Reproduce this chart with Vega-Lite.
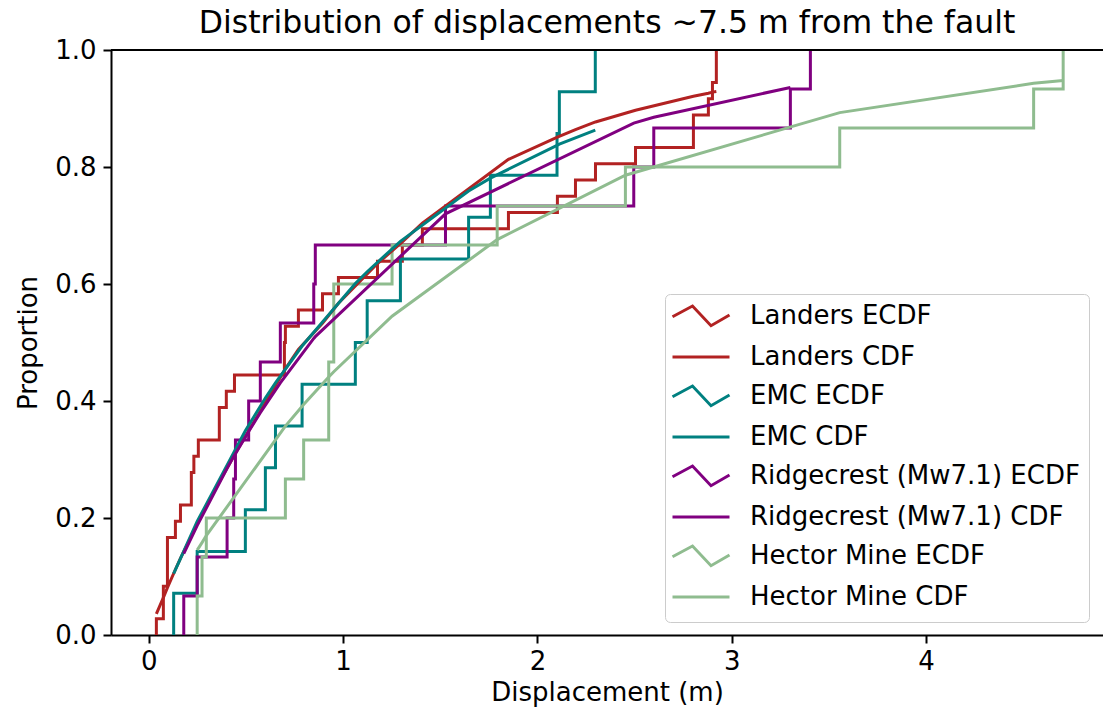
{
  "$schema": "https://vega.github.io/schema/vega-lite/v6.json",
  "autosize": {"type": "none"},
  "padding": {"left": 111, "top": 50, "right": 0, "bottom": 85},
  "width": 992,
  "height": 585,
  "background": "white",
  "title": {"text": "Distribution of displacements ~7.5  m from the fault", "font": "DejaVu Sans", "fontSize": 31.5, "fontWeight": "normal", "color": "black", "anchor": "middle", "offset": -2},
  "config": {
    "view": {"stroke": null},
    "axis": {"grid": false, "domainColor": "black", "domainWidth": 2, "tickColor": "black", "tickWidth": 2, "tickSize": 8, "labelFont": "DejaVu Sans", "labelFontSize": 26, "labelColor": "black", "titleFont": "DejaVu Sans", "titleFontSize": 26, "titleFontWeight": "normal", "titleColor": "black", "labelFlush": false, "labelOverlap": false},
    "legend": {"orient": "none", "labelFont": "DejaVu Sans", "labelFontSize": 26, "labelColor": "black", "labelLimit": 500, "padding": 9, "rowPadding": 54, "symbolSize": 400, "symbolStrokeWidth": 3, "symbolOffset": 14, "labelOffset": 36, "titleFont": "DejaVu Sans", "titleFontSize": 26, "titleFontWeight": "normal"}
  },
  "data": {"values": [
    {"s":"Landers ECDF","x":0.039,"p":0,"i":0},
    {"s":"Landers ECDF","x":0.039,"p":0.0278,"i":1},
    {"s":"Landers ECDF","x":0.075,"p":0.0833,"i":2},
    {"s":"Landers ECDF","x":0.096,"p":0.1667,"i":3},
    {"s":"Landers ECDF","x":0.137,"p":0.1944,"i":4},
    {"s":"Landers ECDF","x":0.163,"p":0.2222,"i":5},
    {"s":"Landers ECDF","x":0.219,"p":0.2778,"i":6},
    {"s":"Landers ECDF","x":0.232,"p":0.3056,"i":7},
    {"s":"Landers ECDF","x":0.255,"p":0.3333,"i":8},
    {"s":"Landers ECDF","x":0.363,"p":0.3889,"i":9},
    {"s":"Landers ECDF","x":0.399,"p":0.4167,"i":10},
    {"s":"Landers ECDF","x":0.441,"p":0.4444,"i":11},
    {"s":"Landers ECDF","x":0.698,"p":0.5,"i":12},
    {"s":"Landers ECDF","x":0.703,"p":0.5278,"i":13},
    {"s":"Landers ECDF","x":0.770,"p":0.5556,"i":14},
    {"s":"Landers ECDF","x":0.894,"p":0.5833,"i":15},
    {"s":"Landers ECDF","x":0.976,"p":0.6111,"i":16},
    {"s":"Landers ECDF","x":1.177,"p":0.6389,"i":17},
    {"s":"Landers ECDF","x":1.305,"p":0.6667,"i":18},
    {"s":"Landers ECDF","x":1.408,"p":0.6944,"i":19},
    {"s":"Landers ECDF","x":1.851,"p":0.7222,"i":20},
    {"s":"Landers ECDF","x":2.103,"p":0.75,"i":21},
    {"s":"Landers ECDF","x":2.196,"p":0.7778,"i":22},
    {"s":"Landers ECDF","x":2.299,"p":0.8056,"i":23},
    {"s":"Landers ECDF","x":2.505,"p":0.8333,"i":24},
    {"s":"Landers ECDF","x":2.803,"p":0.8889,"i":25},
    {"s":"Landers ECDF","x":2.880,"p":0.9167,"i":26},
    {"s":"Landers ECDF","x":2.901,"p":0.9444,"i":27},
    {"s":"Landers ECDF","x":2.921,"p":1,"i":28},

    {"s":"Landers CDF","x":0.039,"p":0.036,"i":30},
    {"s":"Landers CDF","x":0.075,"p":0.064,"i":31},
    {"s":"Landers CDF","x":0.096,"p":0.081,"i":32},
    {"s":"Landers CDF","x":0.137,"p":0.112,"i":33},
    {"s":"Landers CDF","x":0.163,"p":0.131,"i":34},
    {"s":"Landers CDF","x":0.219,"p":0.169,"i":35},
    {"s":"Landers CDF","x":0.232,"p":0.178,"i":36},
    {"s":"Landers CDF","x":0.255,"p":0.195,"i":37},
    {"s":"Landers CDF","x":0.363,"p":0.262,"i":38},
    {"s":"Landers CDF","x":0.399,"p":0.283,"i":39},
    {"s":"Landers CDF","x":0.441,"p":0.308,"i":40},
    {"s":"Landers CDF","x":0.698,"p":0.452,"i":41},
    {"s":"Landers CDF","x":0.703,"p":0.455,"i":42},
    {"s":"Landers CDF","x":0.770,"p":0.488,"i":43},
    {"s":"Landers CDF","x":0.894,"p":0.533,"i":44},
    {"s":"Landers CDF","x":0.976,"p":0.567,"i":45},
    {"s":"Landers CDF","x":1.177,"p":0.635,"i":46},
    {"s":"Landers CDF","x":1.305,"p":0.672,"i":47},
    {"s":"Landers CDF","x":1.408,"p":0.704,"i":48},
    {"s":"Landers CDF","x":1.851,"p":0.813,"i":49},
    {"s":"Landers CDF","x":2.103,"p":0.851,"i":50},
    {"s":"Landers CDF","x":2.196,"p":0.864,"i":51},
    {"s":"Landers CDF","x":2.299,"p":0.877,"i":52},
    {"s":"Landers CDF","x":2.505,"p":0.897,"i":53},
    {"s":"Landers CDF","x":2.803,"p":0.921,"i":54},
    {"s":"Landers CDF","x":2.880,"p":0.926,"i":55},
    {"s":"Landers CDF","x":2.901,"p":0.928,"i":56},
    {"s":"Landers CDF","x":2.921,"p":0.929,"i":57},

    {"s":"EMC ECDF","x":0.128,"p":0,"i":60},
    {"s":"EMC ECDF","x":0.128,"p":0.0714,"i":61},
    {"s":"EMC ECDF","x":0.249,"p":0.1429,"i":62},
    {"s":"EMC ECDF","x":0.497,"p":0.2143,"i":63},
    {"s":"EMC ECDF","x":0.600,"p":0.2857,"i":64},
    {"s":"EMC ECDF","x":0.652,"p":0.3571,"i":65},
    {"s":"EMC ECDF","x":0.789,"p":0.4286,"i":66},
    {"s":"EMC ECDF","x":1.063,"p":0.5,"i":67},
    {"s":"EMC ECDF","x":1.124,"p":0.5714,"i":68},
    {"s":"EMC ECDF","x":1.295,"p":0.6429,"i":69},
    {"s":"EMC ECDF","x":1.646,"p":0.7143,"i":70},
    {"s":"EMC ECDF","x":1.758,"p":0.7857,"i":71},
    {"s":"EMC ECDF","x":2.101,"p":0.8571,"i":72},
    {"s":"EMC ECDF","x":2.113,"p":0.9286,"i":73},
    {"s":"EMC ECDF","x":2.298,"p":1,"i":74},

    {"s":"EMC CDF","x":0.128,"p":0.105,"i":80},
    {"s":"EMC CDF","x":0.249,"p":0.194,"i":81},
    {"s":"EMC CDF","x":0.497,"p":0.349,"i":82},
    {"s":"EMC CDF","x":0.600,"p":0.405,"i":83},
    {"s":"EMC CDF","x":0.652,"p":0.431,"i":84},
    {"s":"EMC CDF","x":0.789,"p":0.494,"i":85},
    {"s":"EMC CDF","x":1.063,"p":0.601,"i":86},
    {"s":"EMC CDF","x":1.124,"p":0.621,"i":87},
    {"s":"EMC CDF","x":1.295,"p":0.673,"i":88},
    {"s":"EMC CDF","x":1.646,"p":0.759,"i":89},
    {"s":"EMC CDF","x":1.758,"p":0.781,"i":90},
    {"s":"EMC CDF","x":2.101,"p":0.837,"i":91},
    {"s":"EMC CDF","x":2.113,"p":0.839,"i":92},
    {"s":"EMC CDF","x":2.298,"p":0.863,"i":93},

    {"s":"Ridgecrest (Mw7.1) ECDF","x":0.180,"p":0,"i":100},
    {"s":"Ridgecrest (Mw7.1) ECDF","x":0.180,"p":0.0667,"i":101},
    {"s":"Ridgecrest (Mw7.1) ECDF","x":0.249,"p":0.1333,"i":102},
    {"s":"Ridgecrest (Mw7.1) ECDF","x":0.403,"p":0.2,"i":103},
    {"s":"Ridgecrest (Mw7.1) ECDF","x":0.437,"p":0.2667,"i":104},
    {"s":"Ridgecrest (Mw7.1) ECDF","x":0.446,"p":0.3333,"i":105},
    {"s":"Ridgecrest (Mw7.1) ECDF","x":0.514,"p":0.4,"i":106},
    {"s":"Ridgecrest (Mw7.1) ECDF","x":0.574,"p":0.4667,"i":107},
    {"s":"Ridgecrest (Mw7.1) ECDF","x":0.677,"p":0.5333,"i":108},
    {"s":"Ridgecrest (Mw7.1) ECDF","x":0.849,"p":0.6,"i":109},
    {"s":"Ridgecrest (Mw7.1) ECDF","x":0.857,"p":0.6667,"i":110},
    {"s":"Ridgecrest (Mw7.1) ECDF","x":1.527,"p":0.7333,"i":111},
    {"s":"Ridgecrest (Mw7.1) ECDF","x":2.496,"p":0.8,"i":112},
    {"s":"Ridgecrest (Mw7.1) ECDF","x":2.599,"p":0.8667,"i":113},
    {"s":"Ridgecrest (Mw7.1) ECDF","x":3.302,"p":0.9333,"i":114},
    {"s":"Ridgecrest (Mw7.1) ECDF","x":3.405,"p":1,"i":115},

    {"s":"Ridgecrest (Mw7.1) CDF","x":0.180,"p":0.139,"i":120},
    {"s":"Ridgecrest (Mw7.1) CDF","x":0.249,"p":0.187,"i":121},
    {"s":"Ridgecrest (Mw7.1) CDF","x":0.403,"p":0.285,"i":122},
    {"s":"Ridgecrest (Mw7.1) CDF","x":0.437,"p":0.305,"i":123},
    {"s":"Ridgecrest (Mw7.1) CDF","x":0.446,"p":0.310,"i":124},
    {"s":"Ridgecrest (Mw7.1) CDF","x":0.514,"p":0.348,"i":125},
    {"s":"Ridgecrest (Mw7.1) CDF","x":0.574,"p":0.380,"i":126},
    {"s":"Ridgecrest (Mw7.1) CDF","x":0.677,"p":0.431,"i":127},
    {"s":"Ridgecrest (Mw7.1) CDF","x":0.849,"p":0.507,"i":128},
    {"s":"Ridgecrest (Mw7.1) CDF","x":0.857,"p":0.510,"i":129},
    {"s":"Ridgecrest (Mw7.1) CDF","x":1.527,"p":0.720,"i":130},
    {"s":"Ridgecrest (Mw7.1) CDF","x":2.496,"p":0.875,"i":131},
    {"s":"Ridgecrest (Mw7.1) CDF","x":2.599,"p":0.885,"i":132},
    {"s":"Ridgecrest (Mw7.1) CDF","x":3.302,"p":0.936,"i":133},

    {"s":"Hector Mine ECDF","x":0.249,"p":0,"i":140},
    {"s":"Hector Mine ECDF","x":0.249,"p":0.0667,"i":141},
    {"s":"Hector Mine ECDF","x":0.274,"p":0.1333,"i":142},
    {"s":"Hector Mine ECDF","x":0.296,"p":0.2,"i":143},
    {"s":"Hector Mine ECDF","x":0.703,"p":0.2667,"i":144},
    {"s":"Hector Mine ECDF","x":0.797,"p":0.3333,"i":145},
    {"s":"Hector Mine ECDF","x":0.926,"p":0.4667,"i":146},
    {"s":"Hector Mine ECDF","x":0.952,"p":0.6,"i":147},
    {"s":"Hector Mine ECDF","x":1.252,"p":0.6667,"i":148},
    {"s":"Hector Mine ECDF","x":1.793,"p":0.7333,"i":149},
    {"s":"Hector Mine ECDF","x":2.453,"p":0.8,"i":150},
    {"s":"Hector Mine ECDF","x":3.556,"p":0.8667,"i":151},
    {"s":"Hector Mine ECDF","x":4.554,"p":0.9333,"i":152},
    {"s":"Hector Mine ECDF","x":4.706,"p":1,"i":153},

    {"s":"Hector Mine CDF","x":0.249,"p":0.145,"i":160},
    {"s":"Hector Mine CDF","x":0.274,"p":0.158,"i":161},
    {"s":"Hector Mine CDF","x":0.296,"p":0.170,"i":162},
    {"s":"Hector Mine CDF","x":0.703,"p":0.357,"i":163},
    {"s":"Hector Mine CDF","x":0.797,"p":0.394,"i":164},
    {"s":"Hector Mine CDF","x":0.926,"p":0.441,"i":165},
    {"s":"Hector Mine CDF","x":0.952,"p":0.450,"i":166},
    {"s":"Hector Mine CDF","x":1.252,"p":0.545,"i":167},
    {"s":"Hector Mine CDF","x":1.793,"p":0.676,"i":168},
    {"s":"Hector Mine CDF","x":2.453,"p":0.786,"i":169},
    {"s":"Hector Mine CDF","x":3.556,"p":0.893,"i":170},
    {"s":"Hector Mine CDF","x":4.554,"p":0.943,"i":171},
    {"s":"Hector Mine CDF","x":4.706,"p":0.948,"i":172}
  ]},
  "resolve": {"scale": {"color": "independent"}, "legend": {"color": "independent"}},
  "layer": [
    {
      "transform": [{"filter": "indexof(datum.s, 'ECDF') >= 0"}],
      "mark": {"type": "line", "interpolate": "step-after", "strokeWidth": 3},
      "encoding": {
        "x": {"field": "x", "type": "quantitative", "scale": {"domain": [-0.1945, 4.911], "nice": false, "zero": false}, "axis": {"values": [0, 1, 2, 3, 4], "format": "d", "title": "Displacement (m)", "labelPadding": 5, "titlePadding": 5}},
        "y": {"field": "p", "type": "quantitative", "scale": {"domain": [0, 1], "nice": false}, "axis": {"values": [0, 0.2, 0.4, 0.6, 0.8, 1.0], "format": ".1f", "title": "Proportion", "labelPadding": 7, "titlePadding": 13}},
        "order": {"field": "i", "type": "quantitative"},
        "color": {
          "field": "s", "type": "nominal",
          "scale": {
            "domain": ["Landers ECDF", "EMC ECDF", "Ridgecrest (Mw7.1) ECDF", "Hector Mine ECDF"],
            "range": ["#b22222", "#008080", "#800080", "#8fbc8f"]
          },
          "legend": {
            "legendX": 554, "legendY": 244, "rowPadding": 48,
            "title": " ", "titleOrient": "bottom", "titlePadding": 15,
            "strokeColor": "#cccccc", "cornerRadius": 5,
            "symbolType": "M-2.85,0.07L-0.85,-1L1,0.97L2.85,-0.1"
          }
        }
      }
    },
    {
      "transform": [{"filter": "indexof(datum.s, 'ECDF') < 0"}],
      "mark": {"type": "line", "strokeWidth": 3},
      "encoding": {
        "x": {"field": "x", "type": "quantitative"},
        "y": {"field": "p", "type": "quantitative"},
        "order": {"field": "i", "type": "quantitative"},
        "color": {
          "field": "s", "type": "nominal",
          "scale": {
            "domain": ["Landers CDF", "EMC CDF", "Ridgecrest (Mw7.1) CDF", "Hector Mine CDF"],
            "range": ["#b22222", "#008080", "#800080", "#8fbc8f"]
          },
          "legend": {
            "legendX": 554, "legendY": 285,
            "title": null,
            "symbolType": "M-2.85,0L2.85,0"
          }
        }
      }
    },
    {
      "data": {"values": [{}]},
      "mark": {"type": "rule", "color": "black", "strokeWidth": 2},
      "encoding": {"y": {"datum": 1}}
    }
  ]
}
